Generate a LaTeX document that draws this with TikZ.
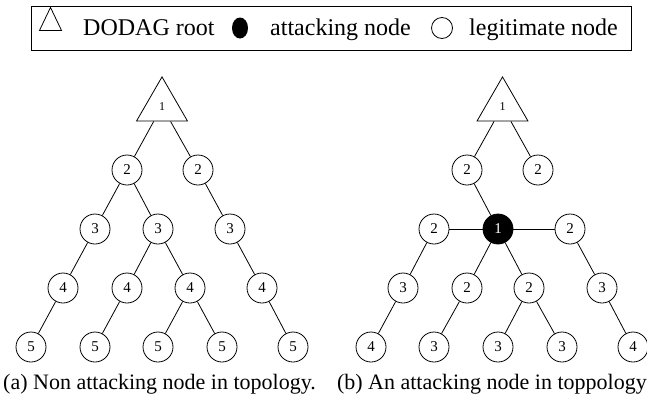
\documentclass[tikz,border=0pt]{standalone}
\usepackage{fontspec}
\setmainfont{Liberation Serif}
\usetikzlibrary{shapes.geometric}
\begin{document}
\begin{tikzpicture}[x=1pt,y=-1pt,
    rank/.style={circle,draw,line width=0.8pt,minimum size=30pt,inner sep=0pt,font=\fontsize{15}{15}\selectfont},
    attacker/.style={rank,fill=black,text=white},
    rootnode/.style={regular polygon,regular polygon sides=3,draw,line width=0.8pt,minimum size=58.8pt,inner sep=0pt,font=\fontsize{12}{12}\selectfont},
    link/.style={line width=0.8pt},
    legtext/.style={font=\fontsize{24}{24}\selectfont,inner sep=0pt,anchor=base west},
    captext/.style={font=\fontsize{22}{22}\selectfont,inner sep=0pt,anchor=base west}]
    \useasboundingbox (0,0) rectangle (647,399);

    % Legend
    \node[draw,line width=0.8pt,minimum width=600pt,minimum height=44pt,inner sep=0pt] (legbox) at (331.85,28) {};
    \node[isosceles triangle,isosceles triangle stretches,shape border rotate=90,draw,line width=0.8pt,
          minimum width=22pt,minimum height=23pt,inner sep=0pt] (legroot) at (50.5,23.5) {};
    \node[legtext] (legroottext) at (83,35) {DODAG root};
    \node[ellipse,fill=black,minimum width=16pt,minimum height=21pt,inner sep=0pt] (legatt) at (240,28) {};
    \node[legtext] (legatttext) at (270,35) {attacking node};
    \node[circle,draw,line width=0.8pt,minimum size=21pt,inner sep=0pt] (leglegit) at (442,28) {};
    \node[legtext] (leglegittext) at (469,35) {legitimate node};

    % (a) no attacker
    \node[rootnode] (aroot) at (162,106.3) {1};
    \node[rank] (a21) at (127,170) {2};
    \node[rank] (a22) at (198,170) {2};
    \node[rank] (a31) at (95,229) {3};
    \node[rank] (a32) at (158,229) {3};
    \node[rank] (a33) at (230,229) {3};
    \node[rank] (a41) at (63,288) {4};
    \node[rank] (a42) at (127,288) {4};
    \node[rank] (a43) at (190,288) {4};
    \node[rank] (a44) at (262,288) {4};
    \node[rank] (a51) at (31,347) {5};
    \node[rank] (a52) at (95,347) {5};
    \node[rank] (a53) at (158,347) {5};
    \node[rank] (a54) at (222,347) {5};
    \node[rank] (a55) at (293,347) {5};
    \foreach \from/\to in {aroot/a21,aroot/a22,a21/a31,a21/a32,a22/a33,a31/a41,a32/a42,a32/a43,
                           a33/a44,a41/a51,a42/a52,a43/a53,a43/a54,a44/a55}
        \draw[link] (\from) -- (\to);

    % (b) one attacker
    \node[rootnode] (broot) at (502.5,106.3) {1};
    \node[rank] (b21) at (467,170) {2};
    \node[rank] (b22) at (538,170) {2};
    \node[rank] (b31) at (434,229) {2};
    \node[attacker] (batt) at (498,229) {1};
    \node[rank] (b33) at (570,229) {2};
    \node[rank] (b41) at (403,288) {3};
    \node[rank] (b42) at (467,288) {2};
    \node[rank] (b43) at (529,288) {2};
    \node[rank] (b44) at (602,288) {3};
    \node[rank] (b51) at (371,347) {4};
    \node[rank] (b52) at (434,347) {3};
    \node[rank] (b53) at (498,347) {3};
    \node[rank] (b54) at (562,347) {3};
    \node[rank] (b55) at (633,347) {4};
    \foreach \from/\to in {broot/b21,broot/b22,b21/batt,batt/b31,batt/b33,batt/b42,batt/b43,
                           b31/b41,b33/b44,b41/b51,b42/b52,b43/b53,b43/b54,b44/b55}
        \draw[link] (\from) -- (\to);

    % Captions
    \node[captext] (capa) at (3,389) {(a) Non attacking node in topology.};
    \node[captext,anchor=base east] (capb) at (647,389) {(b) An attacking node in toppology};
\end{tikzpicture}
\end{document}
